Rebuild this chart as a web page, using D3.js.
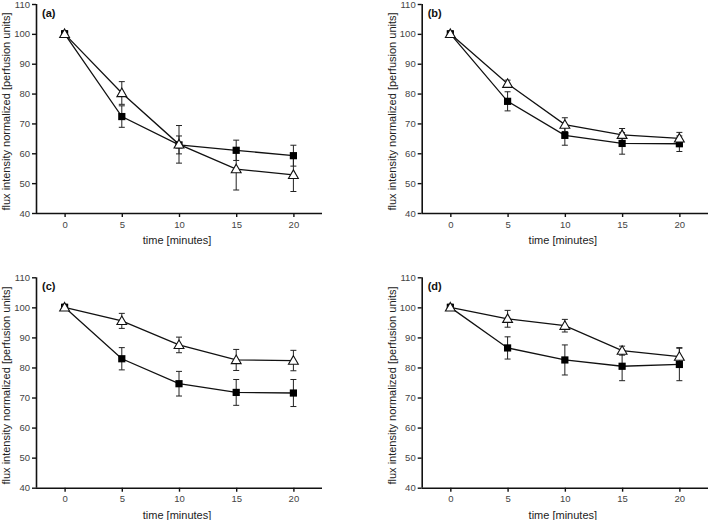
<!DOCTYPE html>
<html><head><meta charset="utf-8">
<script src="https://cdn.jsdelivr.net/npm/d3@7"></script>
<style>body{margin:0;background:#fff}svg{display:block}</style>
</head><body>
<svg id="c" width="709" height="520"></svg>
<script>
const times = [0, 5, 10, 15, 20];
const xTicks = [0, 5, 10, 15, 20];
const yTicks = [40, 50, 60, 70, 80, 90, 100, 110];
const panelLabels = ["(a)", "(b)", "(c)", "(d)"];
const xTitle = "time [minutes]";
const yTitle = "flux intensity normalized [perfusion units]";

// filled squares
const squareA = [100, 72.3, 62.8, 61.0, 59.2];
const squareAErr = [1, 3.6, 3.0, 3.4, 3.5];
const squareB = [100, 77.4, 66.0, 63.3, 63.2];
const squareBErr = [1, 3.2, 3.3, 3.6, 2.6];
const squareC = [100, 82.9, 74.6, 71.7, 71.5];
const squareCErr = [1, 3.7, 4.1, 4.3, 4.5];
const squareD = [100, 86.5, 82.5, 80.4, 81.0];
const squareDErr = [1, 3.7, 5.0, 4.8, 5.4];
// open triangles
const triA = [100, 80.2, 63.0, 54.7, 52.8];
const triAErr = [1, 3.8, 6.3, 7.0, 5.6];
const triB = [100, 83.3, 69.6, 66.2, 65.0];
const triBErr = [0.8, 1.2, 2.3, 2.1, 2.0];
const triC = [100, 95.5, 87.5, 82.5, 82.3];
const triCErr = [1, 2.5, 2.6, 3.5, 3.4];
const triD = [100, 96.2, 93.9, 85.6, 83.6];
const triDErr = [1, 2.8, 2.1, 1.5, 3.0];

const panelsData = [
  {label: panelLabels[0], sq: squareA, sqE: squareAErr, tr: triA, trE: triAErr},
  {label: panelLabels[1], sq: squareB, sqE: squareBErr, tr: triB, trE: triBErr},
  {label: panelLabels[2], sq: squareC, sqE: squareCErr, tr: triC, trE: triCErr},
  {label: panelLabels[3], sq: squareD, sqE: squareDErr, tr: triD, trE: triDErr}
];
const layout = [
  {x0: 36, x1: 322, y0: 4, y1: 213},
  {x0: 421.7, x1: 708, y0: 4, y1: 213},
  {x0: 36, x1: 322, y0: 277.3, y1: 487.7},
  {x0: 421.7, x1: 708, y0: 277.3, y1: 487.7}
];

const svg = d3.select("#c");
const font = "Arial, 'Liberation Sans', Helvetica, sans-serif";

panelsData.forEach((p, i) => {
  const L = layout[i];
  const x = d3.scaleLinear().domain([-2.5, 22.5]).range([L.x0, L.x1]);
  const y = d3.scaleLinear().domain([40, 110]).range([L.y1, L.y0]);
  const g = svg.append("g");

  // axes
  const ya = g.append("g").attr("transform", `translate(${L.x0},0)`)
    .call(d3.axisLeft(y).tickValues(yTicks).tickSize(4).tickPadding(2).tickFormat(d3.format("d")));
  const xa = g.append("g").attr("transform", `translate(0,${L.y1})`)
    .call(d3.axisBottom(x).tickValues(xTicks).tickSize(4).tickPadding(4).tickFormat(d3.format("d")));
  [ya, xa].forEach(a => {
    a.select(".domain").attr("stroke", "#111").attr("stroke-width", 1.6)
      .attr("d", a === ya ? `M0.5,${L.y1}V${L.y0}` : `M${L.x0},0.5H${L.x1}`);
    a.selectAll(".tick line").attr("stroke", "#111").attr("stroke-width", 1.4);
    a.selectAll(".tick text").attr("fill", "#444").style("font-family", font).style("font-size", "9.5px");
  });

  // titles
  g.append("text").attr("x", (L.x0 + L.x1) / 2 - 2).attr("y", L.y1 + 31)
    .attr("text-anchor", "middle").attr("fill", "#222")
    .style("font-family", font).style("font-size", "11px").text(xTitle);
  g.append("text")
    .attr("transform", `translate(${L.x0 - 26},${(L.y0 + L.y1) / 2 + 3}) rotate(-90)`)
    .attr("text-anchor", "middle").attr("fill", "#222")
    .style("font-family", font).style("font-size", "11px").text(yTitle);
  g.append("text").attr("x", L.x0 + 6).attr("y", L.y0 + 13)
    .attr("fill", "#111").style("font-family", font).style("font-size", "11px")
    .style("font-weight", "bold").text(p.label);

  const line = d3.line().x((d, j) => x(times[j])).y(d => y(d));
  const series = [
    {v: p.sq, e: p.sqE, type: "sq"},
    {v: p.tr, e: p.trE, type: "tr"}
  ];
  series.forEach(s => {
    g.append("path").datum(s.v).attr("d", line).attr("fill", "none")
      .attr("stroke", "#111").attr("stroke-width", 1.3);
  });
  series.forEach(s => {
    const eg = g.append("g").attr("stroke", "#222").attr("stroke-width", 1);
    s.v.forEach((v, j) => {
      const cx = x(times[j]);
      const top = y(v + s.e[j]), bot = y(v - s.e[j]);
      eg.append("line").attr("x1", cx).attr("x2", cx).attr("y1", top).attr("y2", bot);
      eg.append("line").attr("x1", cx - 3).attr("x2", cx + 3).attr("y1", top).attr("y2", top);
      eg.append("line").attr("x1", cx - 3).attr("x2", cx + 3).attr("y1", bot).attr("y2", bot);
    });
  });
  series.forEach(s => {
    s.v.forEach((v, j) => {
      const cx = x(times[j]), cy = y(v);
      if (s.type === "sq") {
        g.append("rect").attr("x", cx - 3.6).attr("y", cy - 3.6).attr("width", 7.2).attr("height", 7.2)
          .attr("fill", "#000");
      } else {
        g.append("path").attr("d", d3.symbol(d3.symbolTriangle, 42)())
          .attr("transform", `translate(${cx},${cy + 0.8})`)
          .attr("fill", "#fff").attr("stroke", "#111").attr("stroke-width", 1.1);
      }
    });
  });
});
</script>
</body></html>
